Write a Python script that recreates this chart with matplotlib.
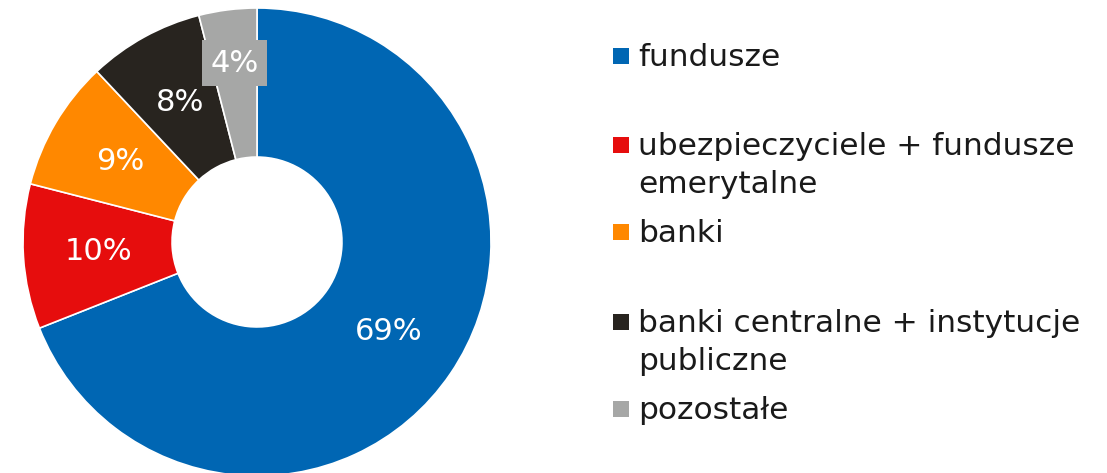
import matplotlib.pyplot as plt
import numpy as np
from matplotlib.patches import Rectangle

# ============================================================
# Data
# ============================================================
categories = [
    "fundusze",
    "ubezpieczyciele + fundusze\nemerytalne",
    "banki",
    "banki centralne + instytucje\npubliczne",
    "pozostałe",
]
shares = [69, 10, 9, 8, 4]
colors = ["#0066B3", "#E60D0D", "#FF8800", "#28241F", "#A6A7A6"]

plt.rcParams['font.family'] = ['DejaVu Sans']

# ============================================================
# Figure Setup
# ============================================================
W, H = 1107, 473
fig = plt.figure(figsize=(W / 100, H / 100), dpi=100)

# donut centre and outer radius in pixels
cx, cy, R = 257, 242, 234
ax = fig.add_axes([(cx - R) / W, (H - cy - R) / H, 2 * R / W, 2 * R / H])

wedges, _ = ax.pie(
    shares, colors=colors, startangle=90, counterclock=False, radius=1,
    wedgeprops=dict(width=0.637, edgecolor='white', linewidth=1.2),
)
ax.set_xlim(-1, 1)
ax.set_ylim(-1, 1)
ax.set_aspect('equal')
ax.axis('off')

# percentage labels inside the ring
for w, v, c in zip(wedges, shares, colors):
    ang = np.deg2rad((w.theta1 + w.theta2) / 2)
    small = v < 5
    r = 0.77 if small else 0.68
    box = dict(boxstyle='square,pad=0.28', facecolor=c, edgecolor='none') if small else None
    ax.text(r * np.cos(ang), r * np.sin(ang), f"{v}%", color='white',
            fontsize=22, ha='center', va='center', bbox=box)

# ============================================================
# Legend (drawn by hand to mimic the irregular spacing)
# ============================================================
baselines = [66, 155, 242, 332, 419]
line_step = 38
for label, c, yb in zip(categories, colors, baselines):
    fig.patches.append(Rectangle((613 / W, (H - yb + 2) / H), 16 / W, 16 / H,
                                 transform=fig.transFigure, facecolor=c,
                                 edgecolor='none'))
    for i, line in enumerate(label.split("\n")):
        fig.text(638 / W, (H - yb - i * line_step) / H, line, fontsize=22.5,
                 color='#1a1a1a', ha='left', va='baseline')

plt.savefig("out.png", dpi=100)
